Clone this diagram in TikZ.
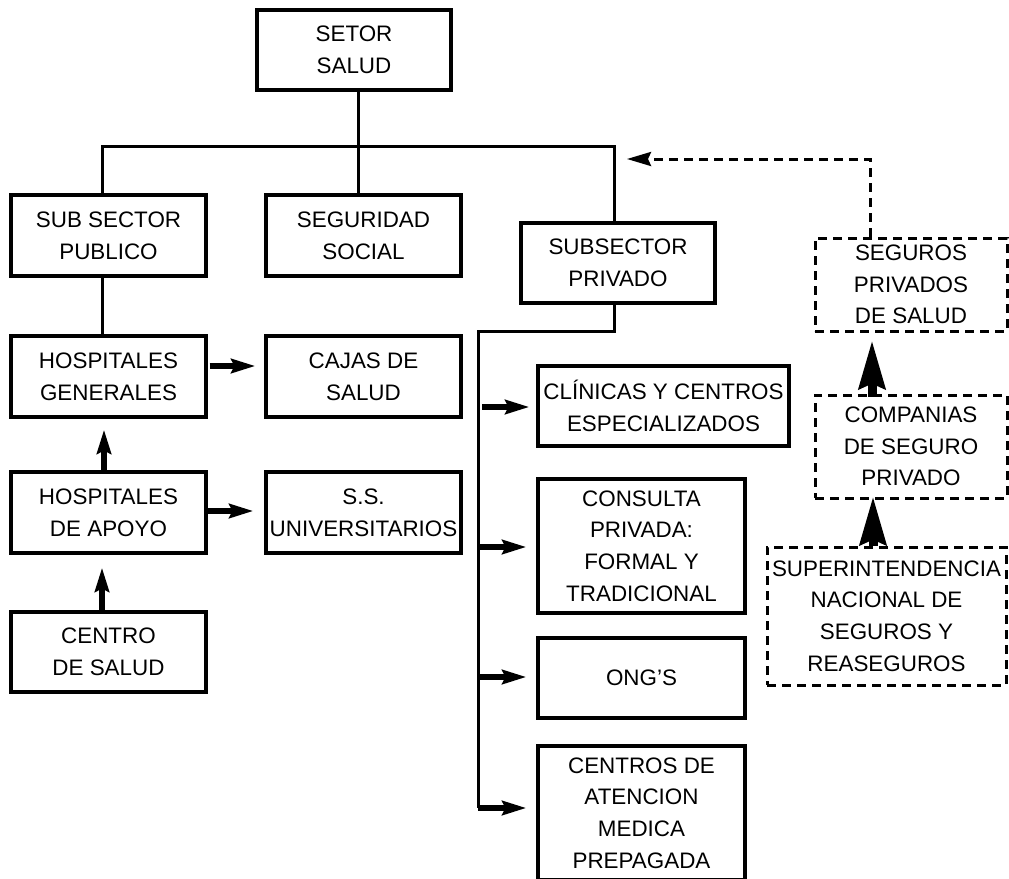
\documentclass[tikz,border=0pt]{standalone}
\usepackage{fontspec}
\setmainfont{Liberation Sans}
\usetikzlibrary{arrows.meta,positioning}
\begin{document}
\begin{tikzpicture}[x=1pt,y=-1pt,
  every node/.style={font=\fontsize{22.4}{31.7}\selectfont, align=center, inner sep=0pt},
  box/.style={draw, line width=3.2pt},
  dbox/.style={draw, line width=3pt, dash pattern=on 9pt off 6pt},
  conn/.style={line width=3pt},
  arr/.style={line width=5.5pt, -{Stealth[length=24pt, width=14pt, inset=3pt]}},
  bigarr/.style={line width=9pt, -{Stealth[length=48pt, width=26pt, inset=5pt]}},
  darr/.style={line width=3pt, dash pattern=on 9pt off 6pt, -{Stealth[length=24pt, width=14pt, inset=3pt]}}
]
\useasboundingbox (0,0) rectangle (1009,878);
\clip (0,0) rectangle (1009,878);
\fill[white] (0,0) rectangle (1009,878);

% boxes
\node[box, minimum width=194pt, minimum height=80pt] (setor) at (354,50) {SETOR\\SALUD};
\node[box, minimum width=195pt, minimum height=81pt] (pub) at (108.5,235.5) {SUB SECTOR\\PUBLICO};
\node[box, minimum width=195pt, minimum height=81pt] (seg) at (363.5,235.5) {SEGURIDAD\\SOCIAL};
\node[box, minimum width=194pt, minimum height=80pt] (priv) at (618,263) {SUBSECTOR\\PRIVADO};
\node[box, minimum width=195pt, minimum height=81pt] (hg) at (108.5,376.5) {HOSPITALES\\GENERALES};
\node[box, minimum width=195pt, minimum height=81pt] (cajas) at (363.5,376.5) {CAJAS DE\\SALUD};
\node[box, minimum width=195pt, minimum height=81pt] (ha) at (108.5,512.5) {HOSPITALES\\DE APOYO};
\node[box, minimum width=195pt, minimum height=81pt] (ssu) at (363.5,512.5) {S.S.\\UNIVERSITARIOS};
\node[box, minimum width=195pt, minimum height=80pt] (cs) at (108.5,652) {CENTRO\\DE SALUD};
\node[box, minimum width=251pt, minimum height=80pt] (clin) at (663.5,406) {CLÍNICAS Y CENTROS\\ESPECIALIZADOS};
\node[box, minimum width=207pt, minimum height=134pt] (cons) at (641.5,546) {CONSULTA\\PRIVADA:\\FORMAL Y\\TRADICIONAL};
\node[box, minimum width=207pt, minimum height=80pt] (ong) at (641.5,678) {ONG’S};
\node[box, minimum width=207pt, minimum height=134pt] (cent) at (641.5,813) {CENTROS DE\\ATENCION\\MEDICA\\PREPAGADA};
\node[dbox, minimum width=192pt, minimum height=93pt] (segp) at (911,284.5) {SEGUROS\\PRIVADOS\\DE SALUD};
\node[dbox, minimum width=192pt, minimum height=103pt] (comp) at (911,446.5) {COMPANIAS\\DE SEGURO\\PRIVADO};
\node[dbox, minimum width=239pt, minimum height=138pt] (sup) at (886.5,616) {SUPERINTENDENCIA\\NACIONAL DE\\SEGUROS Y\\REASEGUROS};

% junction coordinates
\coordinate (jR) at (614,146);
\coordinate (jP) at (478,331);
\coordinate (jB) at (478,808);
\coordinate (jD) at (627,159);

% tree connectors
\draw[conn] ([xshift=4pt]setor.south) -- ([xshift=-5.5pt]seg.north);
\draw[conn] ([xshift=-6.5pt]pub.north) |- (jR) -- ([xshift=-4pt]priv.north);
\draw[conn] ([xshift=-6.5pt]pub.south) -- ([xshift=-6.5pt]hg.north);
\draw[conn] ([xshift=-4pt]priv.south) |- (jP) -- (jB);

% private arrows
\draw[arr] ([xshift=4pt,yshift=-1pt]clin.west -| jP) -- ([xshift=-7pt,yshift=-1pt]clin.west);
\draw[arr] ([yshift=-1pt]cons.west -| jP) -- ([xshift=-10pt,yshift=-1pt]cons.west);
\draw[arr] ([yshift=1pt]ong.west -| jP) -- ([xshift=-10pt,yshift=1pt]ong.west);
\draw[arr] (jB) -- ([xshift=-10pt,yshift=5pt]cent.west);

% public arrows
\draw[arr] ([xshift=2pt,yshift=10.5pt]hg.east) -- ([xshift=-9pt,yshift=10.5pt]cajas.west);
\draw[arr] ([yshift=1.5pt]ha.east) -- ([xshift=-11pt,yshift=1.5pt]ssu.west);
\draw[arr] ([xshift=-4.5pt]ha.north) -- ([xshift=-4.5pt,yshift=-11pt]hg.south);
\draw[arr] ([xshift=-6.5pt]cs.north) -- ([xshift=-6.5pt,yshift=-13pt]ha.south);

% insurance arrows
\draw[bigarr] ([xshift=-39pt,yshift=-3pt]comp.north) -- ([xshift=-39pt,yshift=-8pt]segp.south);
\draw[bigarr] ([xshift=-13.5pt]sup.north) -- ([xshift=-38pt,yshift=3pt]comp.south);
\draw[darr] ([xshift=-41pt]segp.north) |- (jD);
\end{tikzpicture}
\end{document}
